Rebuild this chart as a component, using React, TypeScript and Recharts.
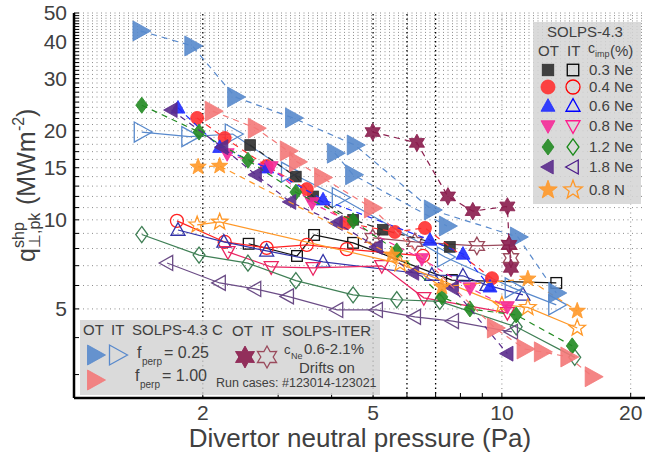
import React from "react";
import { ComposedChart, Scatter, XAxis, YAxis, ReferenceLine } from "recharts";

type P = [number, number];

// SOLPS-4.3 Ne/N seeding. OT = outer target (filled, dashed), IT = inner target (open, solid)
const otNe03: P[] = [[2.58, 17.9], [3.3, 14.0], [3.62, 12.0], [4.49, 10.0], [5.27, 9.26], [7.56, 8.1]];
const itNe03: P[] = [[2.56, 8.3], [3.32, 7.55], [3.64, 8.89], [4.49, 8.36], [7.64, 6.26], [13.4, 6.12]];
const otNe04: P[] = [[1.94, 22.1], [2.25, 18.9], [2.82, 15.2], [3.5, 12.7], [4.32, 9.76], [5.62, 9.1], [6.61, 9.39], [9.48, 6.35]];
const itNe04: P[] = [[1.74, 9.92], [2.25, 8.42], [2.82, 8.04], [3.5, 8.23], [4.34, 7.96], [6.54, 7.55]];
const otNe06: P[] = [[1.75, 23.9], [2.19, 17.6], [2.82, 15.0], [3.82, 11.7], [6.79, 8.55], [8.11, 7.67], [9.38, 5.94]];
const itNe06: P[] = [[1.75, 9.24], [2.24, 8.42], [2.82, 7.85], [3.82, 7.21], [6.86, 6.51], [8.11, 6.47], [9.23, 6.02], [11.2, 5.58]];
const otNe08: P[] = [[2.28, 16.7], [2.89, 15.1], [3.6, 11.4], [6.5, 7.38], [8.42, 5.88], [10.3, 5.08]];
const itNe08: P[] = [[2.29, 7.79], [2.89, 6.93], [3.62, 6.88], [5.24, 6.99], [6.57, 5.45], [10.3, 4.85]];
const otNe12: P[] = [[1.44, 24.4], [1.96, 19.8], [2.55, 15.9], [3.3, 12.4], [4.49, 9.92], [5.68, 7.85], [7.24, 5.49], [8.42, 5.0], [10.8, 4.77], [14.6, 3.75]];
const itNe12: P[] = [[1.44, 8.92], [1.96, 7.6], [2.55, 7.14], [3.3, 6.23], [4.49, 5.58], [5.68, 5.37], [7.16, 5.3], [10.8, 4.35], [14.8, 3.43]];
const otNe18: P[] = [[1.69, 23.5], [2.22, 17.6], [2.66, 14.2], [3.2, 11.5], [4.11, 9.76], [5.1, 8.1], [6.2, 6.62], [7.68, 5.88], [10.3, 3.53]];
const itNe18: P[] = [[1.65, 7.15], [2.19, 6.12], [2.65, 5.84], [3.16, 5.51], [4.12, 4.96], [5.1, 4.96], [6.26, 4.7], [7.68, 4.55], [10.55, 4.18]];
const otN08: P[] = [[1.95, 15.1], [2.19, 15.2], [5.53, 7.61], [7.24, 5.94], [11.5, 6.32], [15.0, 4.92]];
const itN08: P[] = [[1.94, 9.62], [2.19, 9.84], [5.78, 7.11], [10.0, 5.16], [11.5, 5.06], [15.0, 4.31]];

// SOLPS-4.3 C, f_perp = 0.25 (OT two scans, IT) and f_perp = 1.00 (OT)
const otC025a: P[] = [[1.43, 43.5], [1.89, 38.7], [2.38, 26.0], [3.25, 22.1], [4.53, 17.9], [6.86, 10.8], [10.9, 8.75], [13.4, 5.66]];
const otC025b: P[] = [[4.07, 16.8], [4.49, 14.2], [7.44, 9.53]];
const itC025: P[] = [[1.44, 19.8], [1.86, 19.1], [2.35, 19.5], [3.18, 14.5], [4.18, 11.9], [7.36, 7.49], [10.6, 5.89], [13.4, 5.16]];
const otC100: P[] = [[2.11, 23.3], [2.66, 20.4], [3.16, 17.1], [3.32, 15.7], [3.8, 13.9], [4.97, 10.97], [9.63, 4.31], [11.3, 3.66], [12.4, 3.58], [14.3, 3.44], [16.3, 2.95]];

// SOLPS-ITER with drifts
const otIter: P[] = [[4.99, 19.8], [6.33, 18.2], [7.48, 12.0], [8.55, 10.7], [10.3, 11.1], [10.4, 8.23], [10.5, 6.88]];
const itIter: P[] = [[4.99, 8.69], [6.26, 8.42], [8.74, 8.16], [10.4, 8.23], [10.5, 7.43]];

const xTicks = [2, 3, 4, 5, 6, 7, 8, 9, 10, 20];
const xLabels = [2, 5, 10, 20];
const yTicks = Array.from({ length: 48 }, (_, i) => i + 3);
const yLabels = [5, 10, 15, 20, 30, 40, 50];
const gridY = Array.from({ length: 46 }, (_, i) => i + 5);
const darkX = [2, 5, 6, 7];
const lightX = [10, 20];
const legendNames = ["0.3 Ne", "0.4 Ne", "0.6 Ne", "0.8 Ne", "1.2 Ne", "1.8 Ne", "0.8 N"];

const FONT = "'Liberation Sans', Arial, Helvetica, sans-serif";
const TXT = "#404040";

type Kind = "sq" | "ci" | "up" | "dn" | "di" | "lf" | "rt" | "s5" | "s6";

function starPts(cx: number, cy: number, n: number, ro: number, ri: number) {
  const pts: string[] = [];
  for (let i = 0; i < n * 2; i++) {
    const r = i % 2 ? ri : ro;
    const a = -Math.PI / 2 + (i * Math.PI) / n;
    pts.push(`${cx + r * Math.cos(a)},${cy + r * Math.sin(a)}`);
  }
  return pts.join(" ");
}

function Glyph({ cx, cy, kind, color, open, r }: { cx: number; cy: number; kind: Kind; color: string; open: boolean; r: number }) {
  const st = {
    fill: open ? "none" : color,
    fillOpacity: open ? 0 : 0.9,
    stroke: color,
    strokeWidth: open ? 1.3 : 0.8,
    strokeLinejoin: "miter" as const,
  };
  const poly = (p: number[][]) => <polygon points={p.map((q) => `${cx + q[0]},${cy + q[1]}`).join(" ")} {...st} />;
  switch (kind) {
    case "sq":
      return <rect x={cx - r * 0.82} y={cy - r * 0.82} width={r * 1.64} height={r * 1.64} {...st} />;
    case "ci":
      return <circle cx={cx} cy={cy} r={r} {...st} />;
    case "up":
      return poly([[0, -r * 1.05], [r, r * 0.75], [-r, r * 0.75]]);
    case "dn":
      return poly([[0, r * 1.05], [r, -r * 0.75], [-r, -r * 0.75]]);
    case "di":
      return poly([[0, -r * 1.15], [r * 0.85, 0], [0, r * 1.15], [-r * 0.85, 0]]);
    case "lf":
      return poly([[-r * 1.05, 0], [r * 0.75, -r], [r * 0.75, r]]);
    case "rt":
      return poly([[r * 1.05, 0], [-r * 0.75, -r], [-r * 0.75, r]]);
    case "s5":
      return <polygon points={starPts(cx, cy, 5, r * 1.15, r * 0.48)} {...st} />;
    case "s6":
      return <polygon points={starPts(cx, cy, 6, r * 1.1, r * 0.62)} {...st} />;
  }
  return null;
}

type Series = { data: P[]; kind: Kind; color: string; open: boolean; r: number };

const NE_STYLE: { kind: Kind; ot: string; it: string }[] = [
  { kind: "sq", ot: "#2e2e2e", it: "#111111" },
  { kind: "ci", ot: "#ff3030", it: "#ff2020" },
  { kind: "up", ot: "#1f2cff", it: "#3434a8" },
  { kind: "dn", ot: "#f52a98", it: "#ea2462" },
  { kind: "di", ot: "#228a22", it: "#3f7f55" },
  { kind: "lf", ot: "#5a2b8c", it: "#6b4c86" },
  { kind: "s5", ot: "#ff9828", it: "#ff9828" },
];
const LEG_IT = ["#000000", "#ff0000", "#0000ff", "#ff1a8c", "#1a8a1a", "#4b1a8a", "#ff9828"];

const itList = [itNe03, itNe04, itNe06, itNe08, itNe12, itNe18, itN08];
const otList = [otNe03, otNe04, otNe06, otNe08, otNe12, otNe18, otN08];
const NE_R = [6.5, 6.5, 7, 7, 7, 7.5, 7.5];

const C_BLUE = "#5889cc";
const C_RED = "#f37878";
const ITER = "#8a1c4c";
const ITER_IT = "#9a4a5c";

const series: (Series & { dashed: boolean })[] = [
  ...itList.map((d, i) => ({ data: d, kind: NE_STYLE[i].kind, color: NE_STYLE[i].it, open: true, r: NE_R[i], dashed: false })),
  { data: itC025, kind: "rt" as Kind, color: C_BLUE, open: true, r: 10, dashed: false },
  { data: itIter, kind: "s6" as Kind, color: ITER_IT, open: true, r: 8, dashed: false },
  ...otList.map((d, i) => ({ data: d, kind: NE_STYLE[i].kind, color: NE_STYLE[i].ot, open: false, r: NE_R[i], dashed: true })),
  { data: otC100, kind: "rt" as Kind, color: C_RED, open: false, r: 10, dashed: true },
  { data: otC025b, kind: "rt" as Kind, color: C_BLUE, open: false, r: 10, dashed: true },
  { data: otC025a, kind: "rt" as Kind, color: C_BLUE, open: false, r: 10, dashed: true },
  { data: otIter, kind: "s6" as Kind, color: ITER, open: false, r: 8, dashed: true },
];

const toPts = (a: P[]) => a.map(([x, y]) => ({ x, y }));

const XTick = (p: any) =>
  xLabels.includes(p.payload.value) ? (
    <text x={p.x} y={p.y} dy={15} textAnchor="middle" fontSize={21} fill={TXT} fontFamily={FONT}>
      {p.payload.value}
    </text>
  ) : (
    <g />
  );

const YTick = (p: any) =>
  yLabels.includes(p.payload.value) ? (
    <text x={p.x} y={p.y} dy={7} textAnchor="end" fontSize={21} fill={TXT} fontFamily={FONT}>
      {p.payload.value}
    </text>
  ) : (
    <g />
  );

function Overlay() {
  const t = { fontFamily: FONT, fill: TXT };
  return (
    <svg width={647} height={455} style={{ position: "absolute", left: 0, top: 0, pointerEvents: "none" }}>
      {/* y axis title */}
      <g transform="translate(35,262) rotate(-90)" {...t}>
        <text x={0} y={0} fontSize={25}>q</text>
        <text x={14} y={-11} fontSize={16}>shp</text>
        <text x={14} y={5} fontSize={16}>⊥,pk</text>
        <text x={57} y={0} fontSize={25}>(MWm</text>
        <text x={131} y={-11} fontSize={16}>-2</text>
        <text x={145} y={0} fontSize={25}>)</text>
      </g>
      <text x={360} y={447} textAnchor="middle" fontSize={26} {...t}>
        Divertor neutral pressure (Pa)
      </text>

      {/* SOLPS-4.3 legend */}
      <rect x={533} y={22} width={108} height={182} fill="#d4d4d4" fillOpacity={0.85} />
      <text x={585} y={37} textAnchor="middle" fontSize={15} {...t}>SOLPS-4.3</text>
      <text x={538} y={56} fontSize={15} {...t}>OT</text>
      <text x={567} y={56} fontSize={15} {...t}>IT</text>
      <text x={588} y={53} fontSize={14} {...t}>c</text>
      <text x={595} y={57} fontSize={9} {...t}>imp</text>
      <text x={610} y={56} fontSize={15} {...t}>(%)</text>
      {legendNames.map((n, i) => {
        const y = [70, 87, 106, 126, 147, 167, 190][i];
        const s = NE_STYLE[i];
        return (
          <g key={n}>
            <Glyph cx={548} cy={y} kind={s.kind} color={s.ot} open={false} r={i === 6 ? 8.5 : 7} />
            <Glyph cx={573} cy={y} kind={s.kind} color={LEG_IT[i]} open r={i === 6 ? 8.5 : 7} />
            <text x={589} y={y + 5} fontSize={15} {...t}>{n}</text>
          </g>
        );
      })}

      {/* C and ITER legend */}
      <rect x={80} y={320} width={300} height={75} fill="#d4d4d4" fillOpacity={0.85} />
      <text x={83} y={335} fontSize={15} {...t}>OT</text>
      <text x={111} y={335} fontSize={15} {...t}>IT</text>
      <text x={132} y={335} fontSize={15} {...t}>SOLPS-4.3 C</text>
      <Glyph cx={95} cy={355} kind="rt" color={C_BLUE} open={false} r={10} />
      <Glyph cx={117} cy={355} kind="rt" color={C_BLUE} open r={10} />
      <text x={137} y={358} fontSize={16} {...t}>f</text>
      <text x={142} y={365} fontSize={10} {...t}>perp</text>
      <text x={164} y={358} fontSize={16} {...t}>= 0.25</text>
      <Glyph cx={95} cy={380} kind="rt" color={C_RED} open={false} r={10} />
      <text x={135} y={381} fontSize={16} {...t}>f</text>
      <text x={140} y={388} fontSize={10} {...t}>perp</text>
      <text x={162} y={381} fontSize={16} {...t}>= 1.00</text>

      <text x={232} y={336} fontSize={15} {...t}>OT</text>
      <text x={261} y={336} fontSize={15} {...t}>IT</text>
      <text x={282} y={336} fontSize={15} {...t}>SOLPS-ITER</text>
      <Glyph cx={245} cy={357} kind="s6" color={ITER} open={false} r={10} />
      <Glyph cx={267} cy={357} kind="s6" color={ITER_IT} open r={10} />
      <text x={284} y={354} fontSize={13} {...t}>c</text>
      <text x={291} y={359} fontSize={9} {...t}>Ne</text>
      <text x={304} y={354} fontSize={15} {...t}>0.6-2.1%</text>
      <text x={299} y={373} fontSize={15} {...t}>Drifts on</text>
      <text x={216} y={387} fontSize={12.5} {...t}>Run cases: #123014-123021</text>
    </svg>
  );
}

export default function App() {
  const axisLine = { stroke: "#000", strokeWidth: 2.5 };
  const tickLine = { stroke: "#000", strokeWidth: 1 };
  return (
    <div style={{ position: "absolute", left: 0, top: 0, width: 647, height: 455, background: "#fff" }}>
      <ComposedChart width={647} height={455} margin={{ top: 13, right: 2, bottom: 0, left: 0 }}>
        <XAxis
          dataKey="x"
          type="number"
          scale="log"
          domain={[1, 21.6]}
          allowDataOverflow
          ticks={xTicks}
          tick={XTick}
          tickSize={-5}
          tickMargin={12}
          height={57}
          axisLine={axisLine}
          tickLine={tickLine}
          interval={0}
        />
        <XAxis
          xAxisId="top"
          orientation="top"
          type="number"
          scale="log"
          domain={[1, 21.6]}
          allowDataOverflow
          ticks={xTicks}
          tick={false}
          tickSize={-5}
          height={0}
          axisLine={axisLine}
          tickLine={tickLine}
          interval={0}
        />
        <YAxis
          dataKey="y"
          type="number"
          scale="log"
          domain={[2.5, 50]}
          allowDataOverflow
          ticks={yTicks}
          tick={YTick}
          tickSize={-5}
          tickMargin={12}
          width={74}
          axisLine={axisLine}
          tickLine={tickLine}
          interval={0}
        />
        <YAxis
          yAxisId="right"
          orientation="right"
          type="number"
          scale="log"
          domain={[2.5, 50]}
          allowDataOverflow
          ticks={yTicks}
          tick={false}
          tickSize={-5}
          width={0}
          axisLine={{ stroke: "#000", strokeWidth: 1.5 }}
          tickLine={tickLine}
          interval={0}
        />
        {gridY.map((v) => (
          <ReferenceLine key={"gy" + v} y={v} stroke="#8c8c8c" strokeDasharray="1 3.5" strokeWidth={1} />
        ))}
        {lightX.map((v) => (
          <ReferenceLine key={"lx" + v} x={v} stroke="#8c8c8c" strokeDasharray="1 3.5" strokeWidth={1} />
        ))}
        {darkX.map((v) => (
          <ReferenceLine key={"dx" + v} x={v} stroke="#000" strokeDasharray="1.5 3" strokeWidth={1.3} />
        ))}
        {series.map((s, i) => (
          <Scatter
            key={i}
            data={toPts(s.data)}
            isAnimationActive={false}
            line={{ stroke: s.color, strokeWidth: 1.2, strokeDasharray: s.dashed ? "6 5" : undefined }}
            lineType="joint"
            shape={(p: any) => <Glyph cx={p.cx} cy={p.cy} kind={s.kind} color={s.color} open={s.open} r={s.r} />}
          />
        ))}
      </ComposedChart>
      <Overlay />
    </div>
  );
}
